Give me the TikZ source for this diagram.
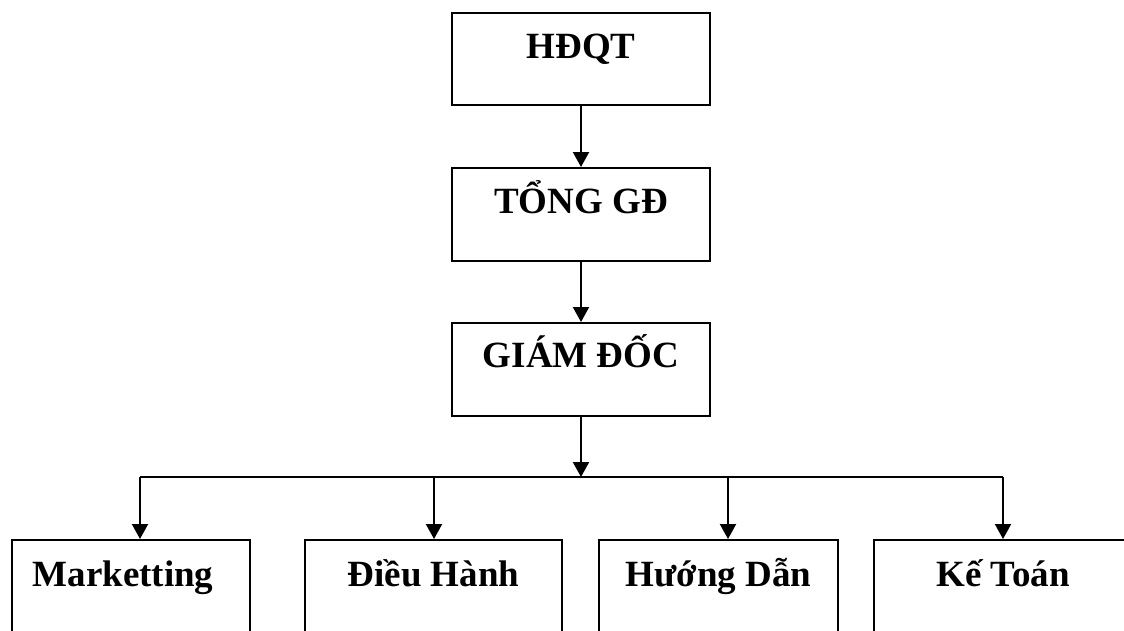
\documentclass[tikz,border=0pt]{standalone}
\usepackage{fontspec}
\setmainfont{Liberation Serif}
\usetikzlibrary{arrows.meta}
\begin{document}
\begin{tikzpicture}[x=1pt,y=-1pt,
  box/.style={draw,line width=1.9pt,inner sep=0pt,anchor=north,minimum width=#1,
    font=\fontsize{37}{40}\selectfont\bfseries},
  link/.style={line width=2.1pt},
  arr/.style={line width=2.1pt,-{Triangle[length=15pt,width=16pt]}}]
\clip (0,0) rectangle (1124,630);
\node[box=258pt,text height=46pt,text depth=46pt] (hdqt) at (581,12) {HĐQT};
\node[box=258pt,text height=46pt,text depth=47pt] (tong) at (581,167) {TỔNG GĐ};
\node[box=258pt,text height=45pt,text depth=48pt] (gd) at (581,322) {GIÁM ĐỐC};
\node[box=238pt,text height=47pt,text depth=120pt] (m) at (131,539) {Marketting\hspace*{16pt}};
\node[box=257pt,text height=47pt,text depth=120pt] (dh) at (433.5,539) {Điều Hành};
\node[box=239pt,text height=47pt,text depth=120pt] (hd) at (718.5,539) {Hướng Dẫn};
\node[box=258pt,text height=47pt,text depth=120pt] (kt) at (1003,539) {Kế Toán};
\coordinate (bus) at (581,477);
\coordinate (bl) at (140,477);
\coordinate (b2) at (434,477);
\coordinate (b3) at (728,477);
\coordinate (br) at (1003,477);
\draw[arr] (hdqt) -- (tong);
\draw[arr] (tong) -- (gd);
\draw[arr] (gd) -- (bus);
\draw[link] (bl) -- (br);
\draw[arr] (bl) -- (bl |- m.north);
\draw[arr] (b2) -- (b2 |- dh.north);
\draw[arr] (b3) -- (b3 |- hd.north);
\draw[arr] (br) -- (br |- kt.north);
\end{tikzpicture}
\end{document}
